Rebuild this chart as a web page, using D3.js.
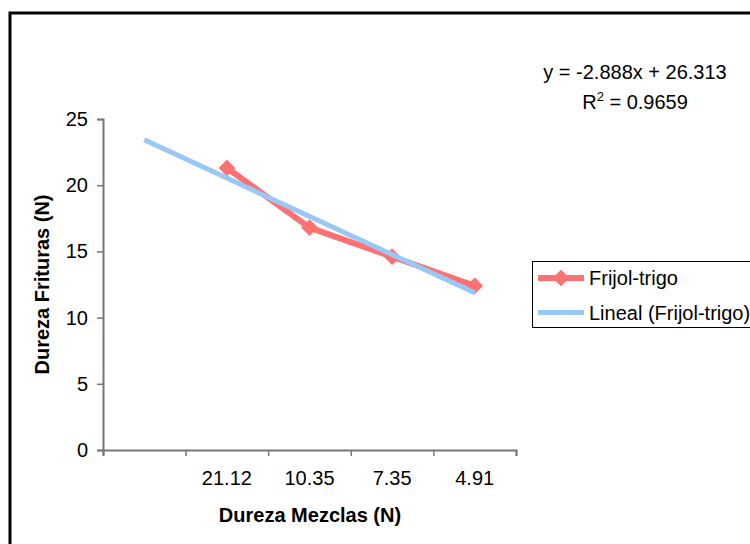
<!DOCTYPE html>
<html>
<head>
<meta charset="utf-8">
<script src="https://cdn.jsdelivr.net/npm/d3@7"></script>
<style>
  body { margin: 0; background: #fff; }
  text { font-family: "Liberation Sans", Arial, sans-serif; }
</style>
</head>
<body>
<div id="chart"></div>
<script>
// data
let categories = ["", "21.12", "10.35", "7.35", "4.91"];
let dureza = [null, 21.3, 16.8, 14.6, 12.4];
let trendSlope = -2.888,
    trendIntercept = 26.313,
    rSquared = 0.9659;
let yTicks = [0, 5, 10, 15, 20, 25];

let width = 750,
    height = 544;

let svg = d3.select("#chart")
      .append("svg")
      .attr("width", width)
      .attr("height", height);

// outer frame (runs off the right and bottom edges)
svg.append("rect")
    .attr("x", 10).attr("y", 13)
    .attr("width", 760).attr("height", 560)
    .style("fill", "#fff")
    .style("stroke", "#000")
    .style("stroke-width", 3);

let x = d3.scaleLinear()
      .domain([0.5, categories.length + 0.5])
      .range([103, 516]);

let y = d3.scaleLinear()
      .domain([0, 25])
      .range([450, 119]);

// y axis
let yAxis = svg.append("g")
      .attr("transform", "translate(" + x(0.5) + ",0)")
      .call(d3.axisLeft(y).tickValues(yTicks).tickSizeOuter(0).tickSize(6).tickPadding(9));

// x axis, ticks between categories
let xAxis = svg.append("g")
      .attr("transform", "translate(0," + y(0) + ")")
      .call(d3.axisBottom(x)
        .tickValues(d3.range(0.5, categories.length + 1, 1))
        .tickFormat("")
        .tickSizeOuter(0)
        .tickSize(6));

[yAxis, xAxis].forEach(function(a) {
  a.select(".domain").style("stroke", "#777").style("stroke-width", 2);
  a.selectAll(".tick line").style("stroke", "#777").style("stroke-width", 1.5);
  a.selectAll(".tick text")
    .style("font-size", "20px")
    .style("font-family", "Liberation Sans, Arial, sans-serif")
    .style("fill", "#000");
});

// category labels
svg.append("g").selectAll("text")
    .data(categories)
    .enter().append("text")
    .attr("x", function(d, i) { return x(i + 1); })
    .attr("y", 485)
    .attr("text-anchor", "middle")
    .style("font-size", "20px")
    .text(function(d) { return d; });

// axis titles
svg.append("text")
    .attr("x", 310).attr("y", 522)
    .attr("text-anchor", "middle")
    .style("font-size", "20px")
    .style("font-weight", "bold")
    .text("Dureza Mezclas (N)");

svg.append("text")
    .attr("transform", "translate(49," + (y(0) + y(25)) / 2 + ") rotate(-90)")
    .attr("text-anchor", "middle")
    .style("font-size", "20px")
    .style("font-weight", "bold")
    .text("Dureza Frituras (N)");

let red = "#ff7070",
    blue = "#99c8f5";

// series
let pts = dureza.map(function(v, i) { return { i: i + 1, v: v }; })
      .filter(function(d) { return d.v !== null; });

let line = d3.line()
      .x(function(d) { return x(d.i); })
      .y(function(d) { return y(d.v); });

svg.append("path")
    .datum(pts)
    .attr("d", line)
    .style("fill", "none")
    .style("stroke", red)
    .style("stroke-width", 6)
    .style("stroke-linejoin", "round");

let diamond = d3.symbol().type(d3.symbolSquare).size(140);

svg.append("g").selectAll("path")
    .data(pts)
    .enter().append("path")
    .attr("d", diamond)
    .attr("transform", function(d) { return "translate(" + x(d.i) + "," + y(d.v) + ") rotate(45)"; })
    .style("fill", red);

// linear trendline over all category positions
let trend = [1, categories.length].map(function(i) {
  return { i: i, v: trendSlope * i + trendIntercept };
});

svg.append("path")
    .datum(trend)
    .attr("d", line)
    .style("fill", "none")
    .style("stroke", blue)
    .style("stroke-width", 5);

// equation
svg.append("text")
    .attr("x", 635).attr("y", 79)
    .attr("text-anchor", "middle")
    .style("font-size", "20px")
    .text("y = " + trendSlope + "x + " + trendIntercept);

let r2 = svg.append("text")
      .attr("x", 635).attr("y", 109)
      .attr("text-anchor", "middle")
      .style("font-size", "20px");
r2.append("tspan").text("R");
r2.append("tspan").attr("dy", -8).style("font-size", "13px").text("2");
r2.append("tspan").attr("dy", 8).text(" = " + rSquared);

// legend
let legend = svg.append("g");
legend.append("rect")
    .attr("x", 532.5).attr("y", 261.5)
    .attr("width", 230).attr("height", 66)
    .style("fill", "#fff")
    .style("stroke", "#000")
    .style("stroke-width", 1);

let legendItems = [
  { name: "Frijol-trigo", color: red, w: 6, marker: true },
  { name: "Lineal (Frijol-trigo)", color: blue, w: 5, marker: false }
];

let li = legend.selectAll(".item")
      .data(legendItems)
      .enter().append("g")
      .attr("class", "item")
      .attr("transform", function(d, i) { return "translate(0," + (278 + i * 34.5) + ")"; });

li.append("line")
    .attr("x1", 538).attr("x2", 584)
    .style("stroke", function(d) { return d.color; })
    .style("stroke-width", function(d) { return d.w; });

li.filter(function(d) { return d.marker; })
    .append("path")
    .attr("d", diamond)
    .attr("transform", "translate(561,0) rotate(45)")
    .style("fill", red);

li.append("text")
    .attr("x", 589).attr("y", 7)
    .style("font-size", "20px")
    .text(function(d) { return d.name; });
</script>
</body>
</html>
